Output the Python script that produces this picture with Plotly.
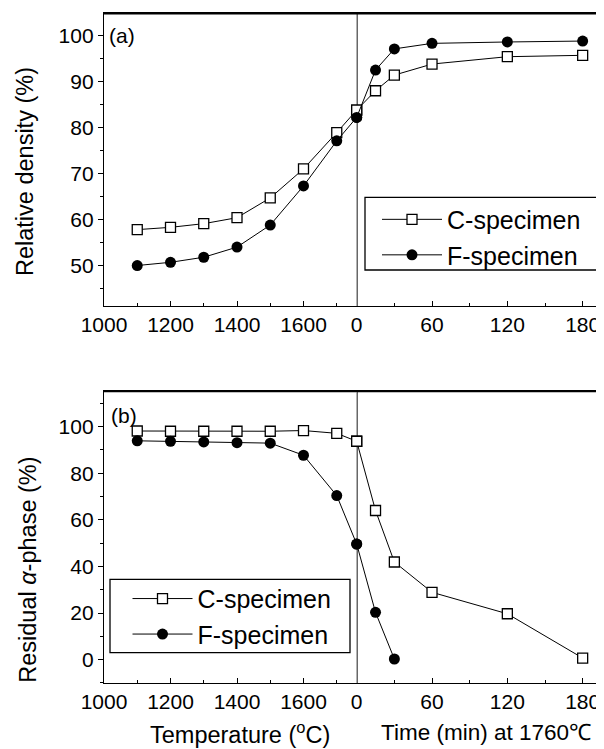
import plotly.graph_objects as go

# ---------------- data ----------------
temps = [1100, 1200, 1300, 1400, 1500, 1600, 1700]
times = [0, 15, 30, 60, 120, 180]
HOLD_T = 1760  # sintering temperature where the time axis starts

dens_c_temp = [57.8, 58.3, 59.1, 60.4, 64.7, 71.0, 78.9]
dens_c_time = [83.8, 88.0, 91.4, 93.8, 95.4, 95.7]
dens_f_temp = [50.0, 50.7, 51.8, 54.0, 58.8, 67.3, 77.1]
dens_f_time = [82.2, 92.5, 97.1, 98.3, 98.6, 98.8]

alpha_c_temp = [98.1, 98.0, 98.0, 98.0, 98.0, 98.3, 97.1]
alpha_c_time = [93.7, 64.0, 41.9, 28.9, 19.7, 0.7]
alpha_f_temp = [93.9, 93.7, 93.4, 93.1, 92.9, 87.7, 70.4]
alpha_f_time = [49.6, 20.3, 0.3]
alpha_f_times = times[:3]

DENS_RANGE = [41.2, 104.9]
ALPHA_RANGE = [-10, 115.4]

FONT = "Liberation Sans, Arial, sans-serif"
sq_fill = dict(symbol="square", size=10, color="white", line=dict(width=1.3, color="black"))
ci = dict(symbol="circle", size=11, color="black", line=dict(width=0, color="black"))
ln = dict(color="black", width=1)

fig = go.Figure()

def add_series(xt, yt, xtime, ytime, xa_l, xa_r, ya, marker, name, legend, show):
    # temperature part, continued to the start of the isothermal hold
    fig.add_trace(go.Scatter(x=xt + [HOLD_T], y=yt + [ytime[0]], xaxis=xa_l, yaxis=ya,
                             mode="lines+markers", line=ln, marker=marker, name=name,
                             legend=legend, showlegend=show, cliponaxis=False))
    fig.add_trace(go.Scatter(x=xtime, y=ytime, xaxis=xa_r, yaxis=ya,
                             mode="lines+markers", line=ln, marker=marker, name=name,
                             legend=legend, showlegend=False, cliponaxis=False))

# panel (a)
add_series(temps, dens_c_temp, times, dens_c_time, "x", "x2", "y", sq_fill, "C-specimen", "legend", True)
add_series(temps, dens_f_temp, times, dens_f_time, "x", "x2", "y", ci, "F-specimen", "legend", True)
# panel (b)
add_series(temps, alpha_c_temp, times, alpha_c_time, "x3", "x4", "y2", sq_fill, "C-specimen", "legend2", True)
add_series(temps, alpha_f_temp, alpha_f_times, alpha_f_time, "x3", "x4", "y2", ci, "F-specimen", "legend2", True)

SPLIT = 0.5054
dom_a = [0.5627, 1.0]
dom_b = [0.0, 0.4363]

axis_common = dict(showline=True, linecolor="black", linewidth=1.3, showgrid=False, zeroline=False,
                   tickfont=dict(family=FONT, size=21, color="black"), tickcolor="black",
                   automargin=False)

xl = dict(axis_common, range=[1000, HOLD_T], domain=[0, SPLIT], tick0=1000, dtick=200,
          ticks="inside", ticklen=5, mirror=True,
          minor=dict(dtick=100, tick0=1000, ticks="inside", ticklen=3, tickcolor="black"))
xr = dict(axis_common, range=[0, 197], domain=[SPLIT, 1], tick0=0, dtick=60,
          ticks="inside", ticklen=5, mirror=True,
          minor=dict(dtick=30, tick0=0, ticks="inside", ticklen=3, tickcolor="black"))

leg_common = dict(xanchor="left", yanchor="top", bgcolor="rgba(0,0,0,0)",
                  borderwidth=0, font=dict(family=FONT, size=25), itemwidth=60,
                  tracegroupgap=0)

top_line = dict(color="black", width=1.5)

fig.update_layout(
    template="none",
    width=596, height=741,
    margin=dict(l=96, r=0, t=5, b=66, pad=0),
    paper_bgcolor="white", plot_bgcolor="white",
    font=dict(family=FONT, color="black"),
    xaxis=dict(xl, anchor="y"),
    xaxis2=dict(xr, anchor="y"),
    xaxis3=dict(xl, anchor="y2"),
    xaxis4=dict(xr, anchor="y2"),
    yaxis=dict(axis_common, domain=dom_a, anchor="x", range=DENS_RANGE, tick0=0, dtick=10,
               ticks="outside", ticklen=5,
               minor=dict(dtick=5, ticks="outside", ticklen=3, tickcolor="black")),
    yaxis2=dict(axis_common, domain=dom_b, anchor="x3", range=ALPHA_RANGE, tick0=0, dtick=20,
                ticks="outside", ticklen=5,
                minor=dict(dtick=10, ticks="outside", ticklen=3, tickcolor="black")),
    legend=dict(leg_common, x=0.546, y=0.726),
    legend2=dict(leg_common, x=0.047, y=0.160),
    shapes=[
        # divider between temperature ramp and isothermal hold
        dict(type="line", xref="x2", x0=0, x1=0, yref="y domain", y0=0, y1=1,
             line=dict(color="black", width=1.8), layer="below"),
        dict(type="line", xref="x4", x0=0, x1=0, yref="y2 domain", y0=0, y1=1,
             line=dict(color="black", width=1.8), layer="below"),
        # top frame lines
        dict(type="line", xref="paper", x0=0, x1=1, yref="paper",
             y0=dom_a[1] - 0.001, y1=dom_a[1] - 0.001, line=top_line, layer="above"),
        dict(type="line", xref="paper", x0=0, x1=1, yref="paper",
             y0=dom_b[1] - 0.001, y1=dom_b[1] - 0.001, line=top_line, layer="above"),
        dict(type="line", xref="x3", x0=1000, x1=HOLD_T, yref="y2",
             y0=ALPHA_RANGE[1] - 0.3, y1=ALPHA_RANGE[1] - 0.3, line=top_line, layer="above"),
        dict(type="line", xref="x4", x0=0, x1=197, yref="y2",
             y0=ALPHA_RANGE[1] - 0.3, y1=ALPHA_RANGE[1] - 0.3, line=top_line, layer="above"),
        # legend boxes
        dict(type="rect", xref="paper", yref="paper", x0=0.522, x1=0.9954, y0=0.6164, y1=0.7249,
             line=dict(color="black", width=1.3), fillcolor="white", layer="below"),
        dict(type="rect", xref="paper", yref="paper", x0=0.012, x1=0.492, y0=0.0452, y1=0.1548,
             line=dict(color="black", width=1.3), fillcolor="white", layer="below"),
    ],
    annotations=[
        dict(text="Relative density (%)", xref="paper", yref="paper", x=-0.158, y=0.7627,
             xanchor="center", yanchor="middle",
             textangle=-90, showarrow=False, font=dict(size=23.5, family=FONT)),
        dict(text="Residual <i>α</i>-phase (%)", xref="paper", yref="paper", x=-0.152, y=0.169,
             xanchor="center", yanchor="middle",
             textangle=-90, showarrow=False, font=dict(size=23.5, family=FONT)),
        dict(text="Temperature (<sup>o</sup>C)", xref="paper", yref="paper", x=0.272, y=-0.0746,
             xanchor="center", yanchor="middle",
             showarrow=False, font=dict(size=23.5, family=FONT)),
        dict(text="Time (min) at 1760℃", xref="paper", yref="paper", x=0.764, y=-0.0746,
             xanchor="center", yanchor="middle",
             showarrow=False, font=dict(size=22.5, family=FONT)),
        dict(text="(a)", xref="paper", yref="paper", x=0.006, y=0.967, xanchor="left",
             yanchor="middle", showarrow=False, font=dict(size=21, family=FONT)),
        dict(text="(b)", xref="paper", yref="paper", x=0.010, y=0.40, xanchor="left",
             yanchor="middle", showarrow=False, font=dict(size=21, family=FONT)),
    ],
)

fig.write_html("out.html", config={"displayModeBar": False})
